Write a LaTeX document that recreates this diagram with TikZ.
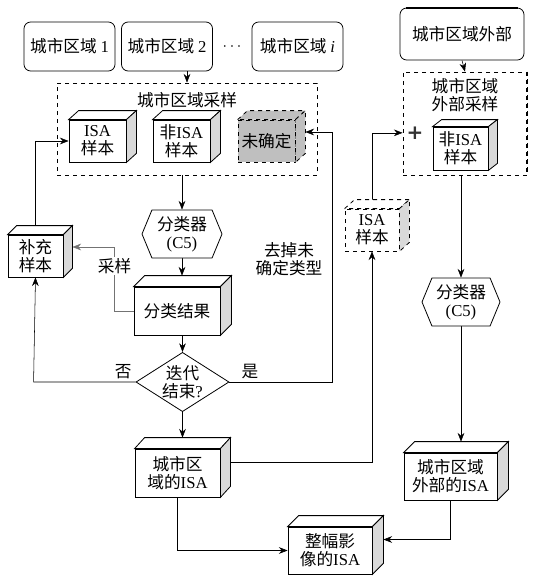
\documentclass[tikz,border=0pt]{standalone}
\usepackage{fontspec}
\setmainfont{Noto Sans CJK SC}
\newfontfamily\lat{Liberation Serif}
\newfontfamily\plusfont{DejaVu Sans}
\usepackage{tikz}
\usetikzlibrary{arrows.meta,shapes.geometric,shapes.symbols}
\pgfdeclarelayer{background}
\pgfsetlayers{background,main}

\newcommand{\en}[1]{{\lat #1}}
% top and side faces of a box node: [style]{node}{dx}{dy}
\newcommand{\boxfaces}[4][]{%
  \draw[fill=white,#1] (#2.north west) -- ++(#3,-#4) -- ([shift={(#3,-#4)}]#2.north east) -- (#2.north east) -- cycle;
  \draw[fill=black!15,#1] (#2.north east) -- ++(#3,-#4) -- ([shift={(#3,-#4)}]#2.south east) -- (#2.south east) -- cycle;
  \coordinate (#2top) at ([shift={(0,-#4)}]#2.north);
  \coordinate (#2side) at ([shift={(#3,-#4)}]#2.east);
}

\begin{document}
\begin{tikzpicture}[x=0.75pt,y=-0.75pt,>={Stealth[length=6.5pt,width=5pt]},line width=0.6pt,
    font=\fontsize{12.5pt}{13.5pt}\selectfont,
    region/.style={draw,rounded corners=5pt,minimum width=68.25pt,minimum height=36.75pt,inner sep=1pt},
    block/.style={draw,fill=white,align=center,inner sep=1pt},
    sampbox/.style={draw,dashed},
    classifier/.style={draw,fill=white,signal,signal to=east and west,signal pointer angle=135,
      minimum width=60pt,minimum height=36pt,inner sep=0pt,align=center},
    decision/.style={draw,fill=white,diamond,aspect=1.57,inner sep=0pt,
      minimum width=68pt,minimum height=43.5pt,align=center},
    link/.style={->,draw=black}]
    \useasboundingbox (0,0) rectangle (537,582);

    % urban regions
    \node[region] (reg1) at (69.5,46.5) {城市区域~\en{1}};
    \node[region] (reg2) at (167,46.5) {城市区域~\en{2}};
    \node (dots) at (232,47) {$\cdots$};
    \node[region] (regi) at (297.5,46.5) {城市区域~\en{\itshape i}};
    \node[region,minimum width=93pt,minimum height=39pt] (outer) at (462,34) {城市区域外部};
    \draw[line width=1.6pt] ([xshift=5pt]outer.north west) -- ([xshift=-5pt]outer.north east);

    % urban sampling
    \node[sampbox,minimum width=195pt,minimum height=69pt] (samp) at (187,129) {};
    \node (samptitle) at (187,100) {城市区域采样};
    \node[block,minimum width=42.75pt,minimum height=31.5pt] (isa) at (97.5,141) {\en{ISA}\\样本};
    \boxfaces{isa}{10}{9}
    \node[block,minimum width=42.75pt,minimum height=31.5pt] (nonisa) at (181.5,141) {非\en{ISA}\\样本};
    \boxfaces{nonisa}{10}{9}
    \node[block,dashed,fill=black!25,minimum width=42.75pt,minimum height=31.5pt] (unk) at (266.5,141) {未确定};
    \boxfaces[dashed,fill=black!25]{unk}{10}{9}

    % outer sampling
    \node[sampbox,minimum width=93pt,minimum height=77.25pt] (outsamp) at (465,123.5) {};
    \draw[dashed,line width=1.4pt] (outsamp.north east) -- (outsamp.south east);
    \node[align=center] (outtitle) at (465,95) {城市区域\\外部采样};
    \node[text=black!80] (plus) at (415,133) {\fontsize{15pt}{15pt}\plusfont\bfseries +};
    \node[block,minimum width=41.25pt,minimum height=32.25pt] (outnon) at (460.5,148.5) {非\en{ISA}\\样本};
    \boxfaces{outnon}{9}{7}

    % classification loop
    \node[classifier] (clf) at (182,234) {分类器\\\en{(C5)}};
    \node[block,minimum width=64.5pt,minimum height=36pt] (res) at (177,311) {分类结果};
    \boxfaces{res}{11}{11}
    \node[block,minimum width=41.25pt,minimum height=31.5pt] (sup) at (35.5,256) {补充\\样本};
    \boxfaces{sup}{9}{9}
    \node[decision] (dia) at (182.5,382) {迭代\\结束\en{?}};
    \node[align=center] (drop) at (289,259) {去掉未\\确定类型};
    \node[block,dashed,minimum width=40.5pt,minimum height=31.5pt] (disa) at (372,230) {\en{ISA}\\样本};
    \boxfaces[dashed]{disa}{10}{9}

    % results
    \node[classifier,minimum width=58.5pt] (clf2) at (461,302) {分类器\\\en{(C5)}};
    \node[block,minimum width=63.75pt,minimum height=36pt] (cisa) at (177.5,473) {城市区\\域的\en{ISA}};
    \boxfaces{cisa}{10}{11}
    \node[block,minimum width=69.75pt,minimum height=35.25pt] (oisa) at (450.5,476.5) {城市区域\\外部的\en{ISA}};
    \boxfaces{oisa}{11}{11}
    \node[block,minimum width=63pt,minimum height=35.25pt] (whole) at (330,550.5) {整幅影\\像的\en{ISA}};
    \boxfaces{whole}{11}{11}

    \begin{pgfonlayer}{background}
    \draw[link] (samp.north |- reg2.south) -- (samp.north);
    \draw[link] (outer.south) -- (outsamp.north);
    \draw[link] (sup.north) |- (isa.west);
    \draw[link] (clf.north |- samp.south) -- (clf.north);
    \draw[link] (clf.south) -- (clf.south |- restop);
    \draw[link,draw=black!55] (res.west) -- ++(-19,0) |- node[pos=0.35,fill=white,inner sep=1pt,text=black] {采样} (supside);
    \draw[link] (dia.north |- res.south) -- (dia.north);
    \draw[link] (dia.west) -- node[pos=0.12,above=-1pt] {否} ++(-102,0) -- (sup.south);
    \draw[link] (dia.east) -- node[pos=0.2,above=-1pt] {是} ++(103,0) |- (unkside);
    \draw[link] (dia.south) -- (dia.south |- cisatop);
    \draw[link] (cisaside) -| (disa.south);
    \draw[link] (disa.north) |- ([yshift=-7pt]outsamp.west);
    \draw[link] (clf2.north |- outsamp.south) -- (clf2.north);
    \draw[link] (clf2.south) -- (clf2.south |- oisatop);
    \draw[link] (cisa.south) |- (whole.west);
    \draw[link] (oisa.south) |- (wholeside);
    \end{pgfonlayer}
\end{tikzpicture}
\end{document}
